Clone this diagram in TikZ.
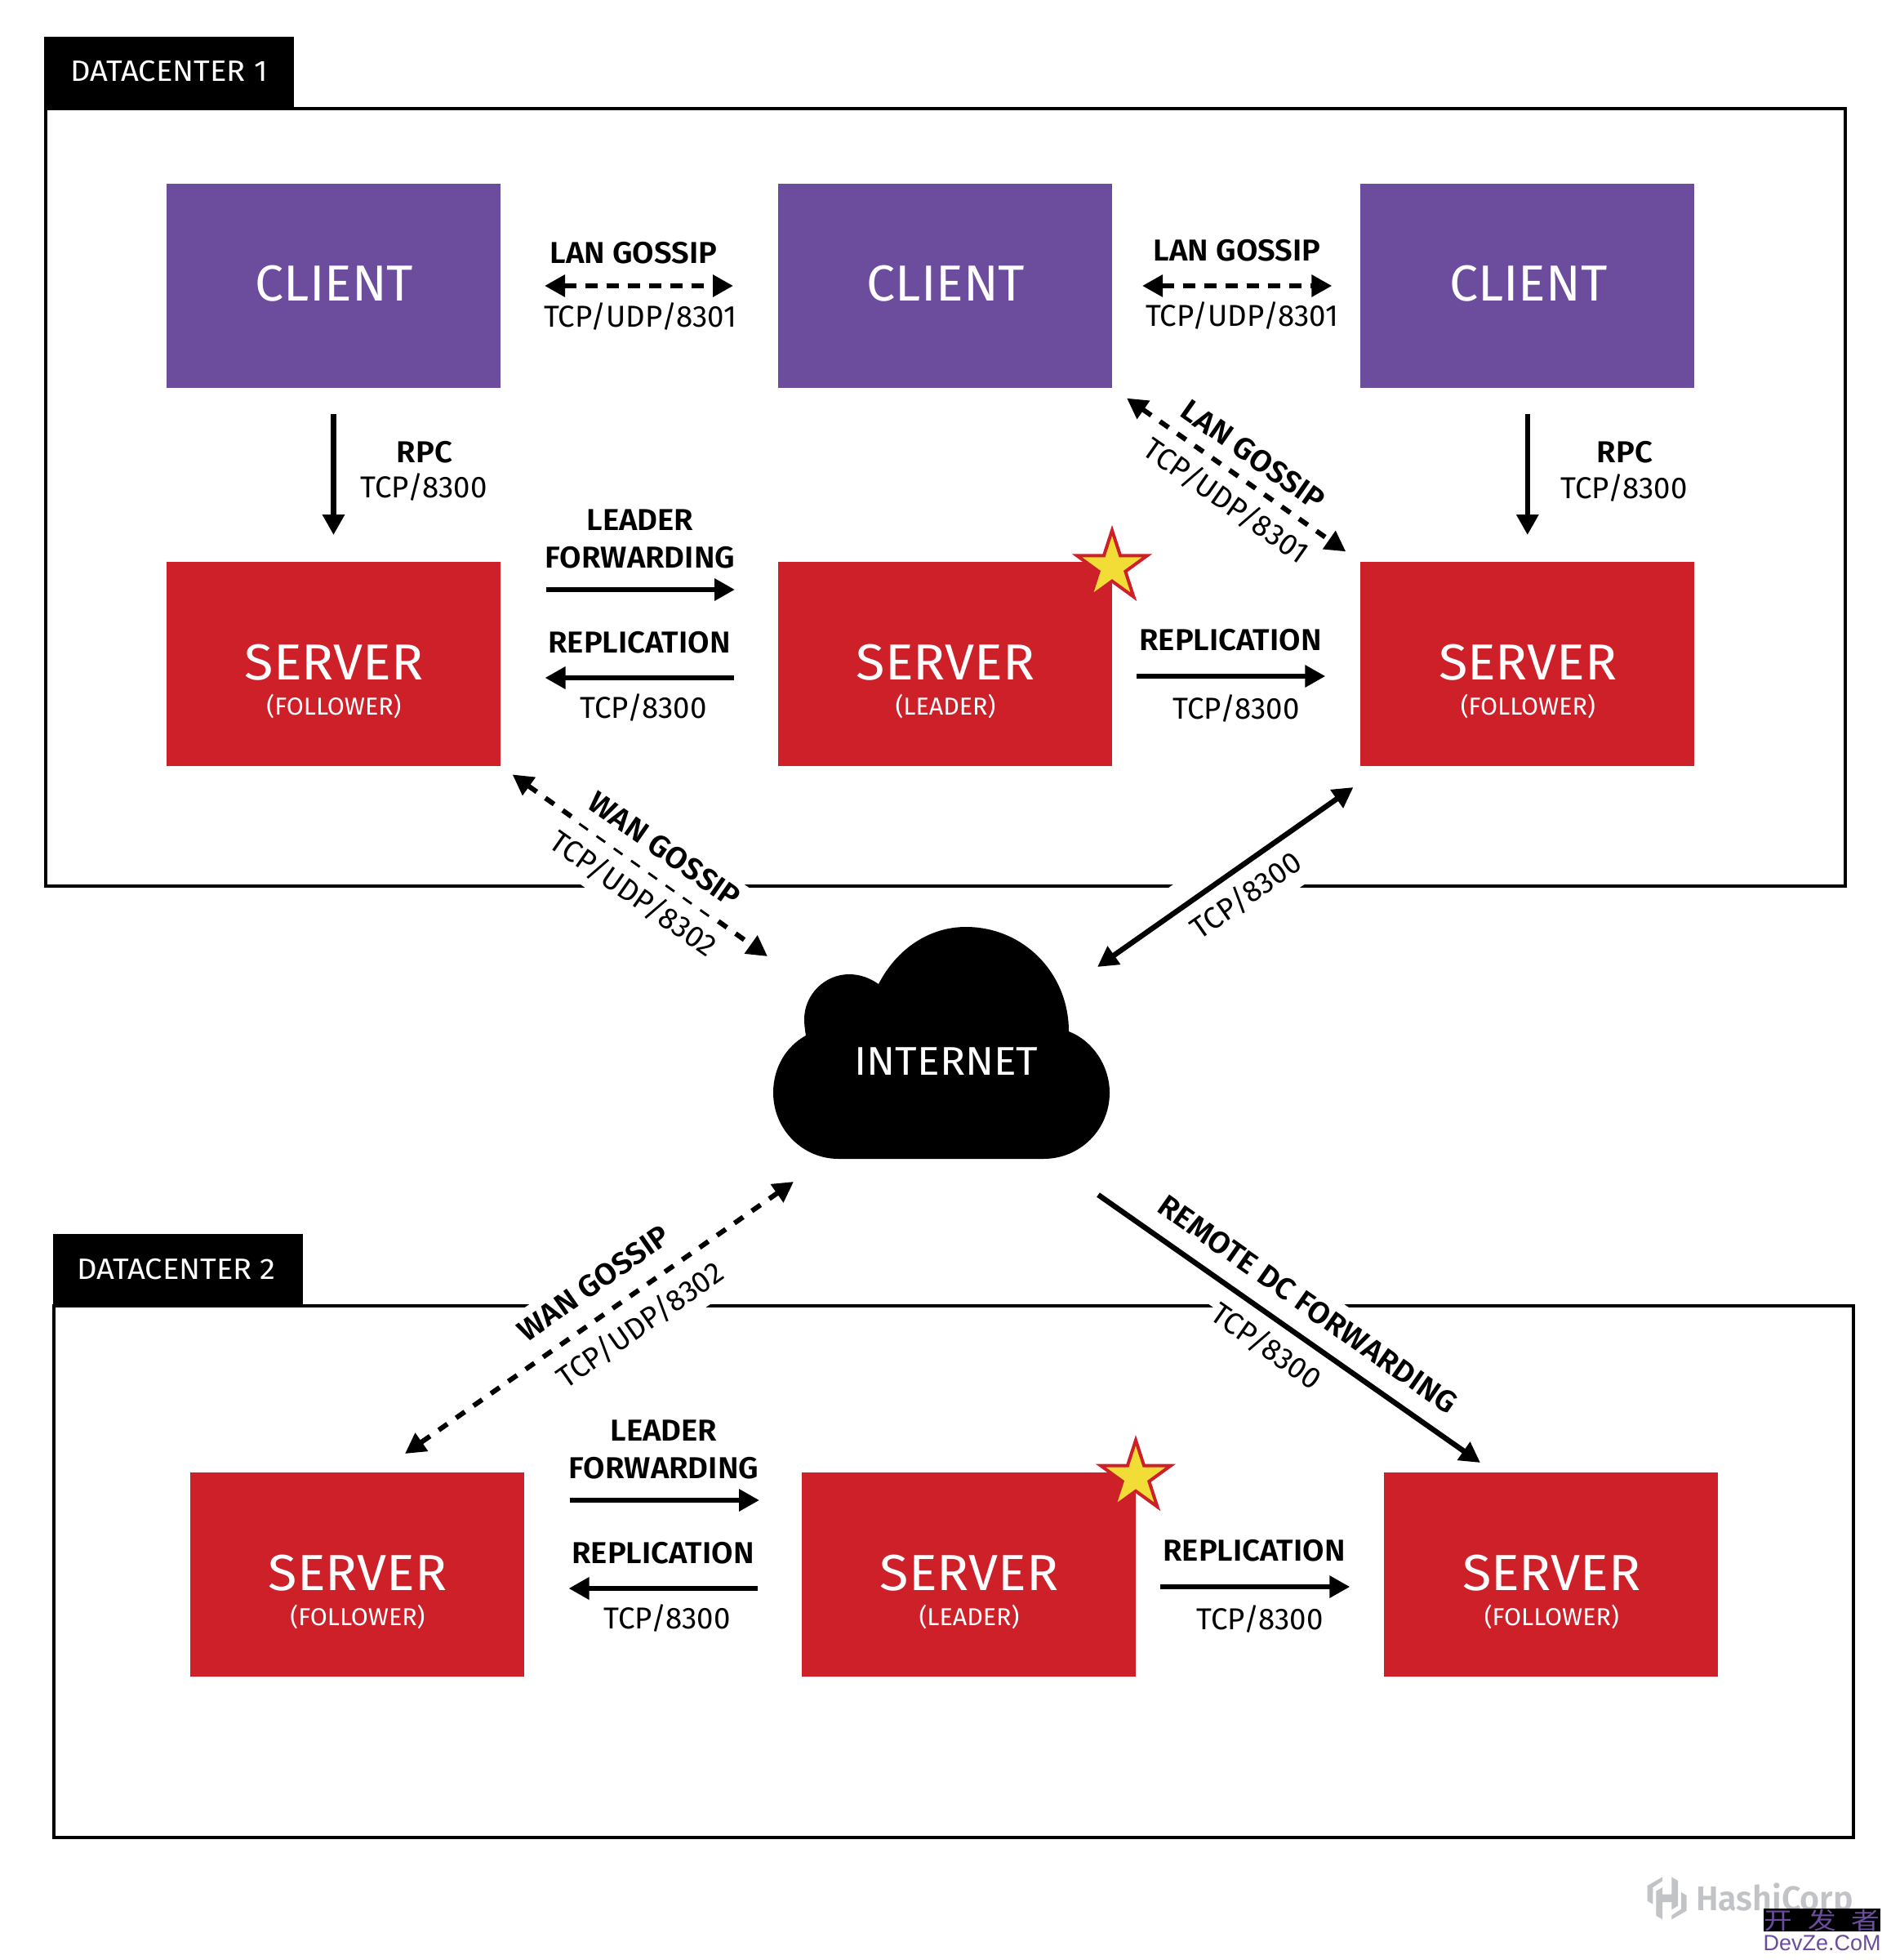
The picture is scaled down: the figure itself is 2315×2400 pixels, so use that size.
\documentclass[tikz,border=0pt]{standalone}
\usepackage{fontspec}
\usetikzlibrary{arrows.meta,shapes.geometric}
\setmainfont{Fira Sans}
\newfontfamily\clientf[FakeStretch=1.01]{Fira Sans}
\newfontfamily\serverf[FakeStretch=1.045]{Fira Sans}
\newfontfamily\netf[FakeStretch=1.05]{Fira Sans}
\newfontfamily\subf[FakeStretch=1.015]{Fira Sans}
\newfontfamily\tabf[FakeStretch=1.06]{Fira Sans}
\newfontfamily\regf[FakeStretch=0.99]{Fira Sans}
\newfontfamily\boldf[FakeStretch=1.035]{Fira Sans SemiBold}
\newfontfamily\hashif[FakeStretch=0.98]{Fira Sans SemiBold}
\newfontfamily\wmcjk[FakeStretch=1.2]{Noto Sans CJK SC}
\newfontfamily\wmlat{Liberation Sans}
\definecolor{clientpurple}{HTML}{6C4C9C}
\definecolor{serverred}{HTML}{CD2029}
\definecolor{staryellow}{HTML}{F2DC36}
\definecolor{hashigrey}{HTML}{C1C3C6}
\tikzset{
  frameb/.style={draw=black,line width=4pt,inner sep=0pt,outer sep=0pt},
  tabb/.style={fill=black,inner sep=0pt,outer sep=0pt,minimum width=306.5pt,minimum height=88pt},
  tabtxt/.style={text=white,inner sep=0pt,font=\tabf\fontsize{36}{36}\selectfont,text height=25pt,text depth=0pt},
  clientb/.style={fill=clientpurple,inner sep=0pt,outer sep=0pt,minimum width=409pt,minimum height=250pt},
  serverb/.style={fill=serverred,inner sep=0pt,outer sep=0pt,minimum width=409pt,minimum height=250pt},
  clienttxt/.style={text=white,inner sep=0pt,font=\clientf\fontsize{62}{62}\selectfont,text height=43pt,text depth=0pt},
  servertxt/.style={text=white,inner sep=0pt,font=\serverf\fontsize{62}{62}\selectfont,text height=43pt,text depth=0pt},
  subtxt/.style={text=white,inner sep=0pt,font=\subf\fontsize{30}{30}\selectfont,text height=21pt,text depth=0pt},
  nettxt/.style={text=white,inner sep=0pt,font=\netf\fontsize{49}{49}\selectfont,text height=34pt,text depth=0pt},
  bl/.style={inner sep=0pt,font=\boldf\fontsize{37}{37}\selectfont,text height=26pt,text depth=0pt},
  rl/.style={inner sep=0pt,font=\regf\fontsize{37}{37}\selectfont,text height=26pt,text depth=0pt},
  knock/.style={fill=white,inner sep=0pt,minimum width=300pt},
  solidarr/.style={draw=black,line width=6.5pt,>={Triangle[length=25pt,width=26pt]}},
  dasharr/.style={draw=black,line width=6pt,dash pattern=on 13pt off 13pt,>={Triangle[length=25pt,width=26pt]}},
  dasharrh/.style={draw=black,line width=6pt,dash pattern=on 15pt off 11pt,>={Triangle[length=25pt,width=26pt]}},
  leaderstar/.style={star,star points=5,star point ratio=2.618,draw=serverred,fill=staryellow,line width=4pt,inner sep=0pt,minimum size=90pt,outer sep=0pt},
}
\begin{document}
\begin{tikzpicture}[x=1pt,y=-1pt]
\path[use as bounding box,fill=white] (0,0) rectangle (2315,2400);

% frames
\node[frameb,minimum width=2204pt,minimum height=951.5pt] (dc1) at (1157.5,608.75) {};
\node[frameb,minimum width=2204pt,minimum height=651.5pt] (dc2) at (1168,1924.25) {};
\node[tabb] (tab1) at (206.75,89) {};
\node[tabtxt] (tab1t) at (207,87) {DATACENTER 1};
\node[tabb] (tab2) at (217.75,1555) {};
\node[tabtxt] (tab2t) at (216,1553.5) {DATACENTER 2};

% frame breaks behind the slanted labels
\node[knock,minimum height=115pt,rotate=-35] (kn1) at (813.5,1084.5) {};
\node[knock,minimum height=92pt,rotate=35] (kn2) at (1515,1084.5) {};
\node[knock,minimum height=127pt,rotate=35] (kn3) at (757,1598.5) {};
\node[knock,minimum height=95pt,rotate=-35] (kn4) at (1565.5,1598.5) {};

% boxes
\node[clientb] (c1) at (408.5,350) {};
\node[clientb] (c2) at (1157.5,350) {};
\node[clientb] (c3) at (1870.8,350) {};
\node[clienttxt] (c1t) at (409.5,347) {CLIENT};
\node[clienttxt] (c2t) at (1158.5,347) {CLIENT};
\node[clienttxt] (c3t) at (1871.8,347) {CLIENT};
\node[serverb] (s1) at (408.5,813) {};
\node[serverb] (s2) at (1157.5,813) {};
\node[serverb] (s3) at (1870.8,813) {};
\node[serverb] (s4) at (437,1928) {};
\node[serverb] (s5) at (1186.5,1928) {};
\node[serverb] (s6) at (1899.8,1928) {};
\node[servertxt] (s1t) at (409,811) {SERVER};
\node[servertxt] (s2t) at (1158,811) {SERVER};
\node[servertxt] (s3t) at (1871.3,811) {SERVER};
\node[servertxt] (s4t) at (438,1926) {SERVER};
\node[servertxt] (s5t) at (1187,1926) {SERVER};
\node[servertxt] (s6t) at (1900.3,1926) {SERVER};
\node[subtxt] (s1r) at (409,865) {(FOLLOWER)};
\node[subtxt] (s2r) at (1158,865) {(LEADER)};
\node[subtxt] (s3r) at (1871.3,865) {(FOLLOWER)};
\node[subtxt] (s4r) at (438,1980) {(FOLLOWER)};
\node[subtxt] (s5r) at (1187,1980) {(LEADER)};
\node[subtxt] (s6r) at (1900.3,1980) {(FOLLOWER)};

% stars
\node[leaderstar] (star1) at (1362,694.4) {};
\node[leaderstar] (star2) at (1391,1808.6) {};

% cloud
\fill[black] (987,1268)
  .. controls (986,1262) and (985,1255) .. (985,1248)
  .. controls (985,1218) and (1010,1193) .. (1040,1193)
  .. controls (1054,1193) and (1066,1198) .. (1076,1205)
  .. controls (1098,1162) and (1138,1135) .. (1183,1135)
  .. controls (1253,1135) and (1309,1191) .. (1309,1263)
  .. controls (1338,1274) and (1359,1305) .. (1359,1338)
  .. controls (1359,1383) and (1323,1419) .. (1278,1419)
  -- (1027,1419)
  .. controls (983,1419) and (947,1383) .. (947,1338)
  .. controls (947,1307) and (963,1281) .. (987,1268) -- cycle;
\node[nettxt] (internet) at (1159,1299) {INTERNET};
\coordinate (cloudNW) at (940,1171);
\coordinate (cloudNE) at (1344,1184);
\coordinate (cloudSW) at (972,1447);
\coordinate (cloudSE) at (1345,1463);
\coordinate (s3sw) at (1657.5,964);
\coordinate (s4nw) at (496,1780);
\coordinate (s6nw) at (1813,1791);

% connectors: datacenter 1
\draw[dasharrh,<->,shorten <=54pt,shorten >=55pt] (c1.east) -- (c2.west);
\draw[dasharrh,<->,shorten <=37pt,shorten >=35pt] (c2.east) -- (c3.west);
\draw[solidarr,->,shorten <=32pt,shorten >=33pt] (c1.south) -- (s1.north);
\draw[solidarr,->,shorten <=32pt,shorten >=33pt] (c3.south) -- (s3.north);
\draw[solidarr,->,shorten <=55.5pt,shorten >=53pt] ([yshift=91pt]s1.east) -- ([yshift=91pt]s2.west);
\draw[solidarr,->,shorten <=54pt,shorten >=54.5pt] ([yshift=-17pt]s2.west) -- ([yshift=-17pt]s1.east);
\draw[solidarr,->,shorten <=30pt,shorten >=43pt] ([yshift=-15pt]s2.east) -- ([yshift=-15pt]s3.west);
\draw[dasharr,<->,shorten <=22pt,shorten >=22pt] (c2.south east) -- (s3.north west);
\draw[dasharr,<->,shorten <=18pt] (s1.south east) -- (cloudNW);
\node[fill=white,inner sep=0pt,minimum width=218pt,minimum height=7pt,rotate=-35.5] (thin) at (791,1060.5) {};
\draw[solidarr,<->] (cloudNE) -- (s3sw);

% connectors: datacenter 2
\draw[dasharr,<->] (cloudSW) -- (s4nw);
\draw[solidarr,->] (cloudSE) -- (s6nw);
\draw[solidarr,->,shorten <=56pt,shorten >=52pt] ([yshift=91pt]s4.east) -- ([yshift=91pt]s5.west);
\draw[solidarr,->,shorten <=54pt,shorten >=55pt] ([yshift=-17pt]s5.west) -- ([yshift=-17pt]s4.east);
\draw[solidarr,->,shorten <=30pt,shorten >=42pt] ([yshift=-15pt]s5.east) -- ([yshift=-15pt]s6.west);

% labels: datacenter 1
\node[bl] (l1) at (776,309) {LAN GOSSIP};
\node[rl] (l2) at (784,387) {TCP/UDP/8301};
\node[bl] (l3) at (1515,306) {LAN GOSSIP};
\node[rl] (l4) at (1521,386) {TCP/UDP/8301};
\node[bl] (l5) at (520,553) {RPC};
\node[rl] (l6) at (519,596) {TCP/8300};
\node[bl] (l7) at (1990,553) {RPC};
\node[rl] (l8) at (1989,597) {TCP/8300};
\node[bl] (l9) at (784,636) {LEADER};
\node[bl] (l10) at (784,682) {FORWARDING};
\node[bl] (l11) at (783,786) {REPLICATION};
\node[rl] (l12) at (788,866) {TCP/8300};
\node[bl] (l13) at (1507,783) {REPLICATION};
\node[rl] (l14) at (1514,867) {TCP/8300};
\node[bl,rotate=-35] (l15) at (1535,557) {LAN GOSSIP};
\node[rl,rotate=-35] (l16) at (1502,613) {TCP/UDP/8301};
\node[bl,rotate=-35] (l17) at (814,1040) {WAN GOSSIP};
\node[rl,rotate=-35] (l18) at (776,1094) {TCP/UDP/8302};
\node[rl,rotate=35] (l19) at (1526,1096) {TCP/8300};

% labels: between and datacenter 2
\node[bl,rotate=35] (l20) at (727,1571) {WAN GOSSIP};
\node[rl,rotate=35] (l21) at (784,1622) {TCP/UDP/8302};
\node[bl,rotate=-35] (l22) at (1602,1597) {REMOTE DC FORWARDING};
\node[rl,rotate=-35] (l23) at (1551,1648) {TCP/8300};
\node[bl] (l24) at (813,1751) {LEADER};
\node[bl] (l25) at (813,1797) {FORWARDING};
\node[bl] (l26) at (812,1901) {REPLICATION};
\node[rl] (l27) at (817,1981) {TCP/8300};
\node[bl] (l28) at (1536,1898) {REPLICATION};
\node[rl] (l29) at (1543,1982) {TCP/8300};

% logo
\begin{scope}[shift={(2005,2285)},x=0.3333pt,y=-0.3333pt]
\fill[hashigrey] (38,72) -- (93,40) -- (93,55) -- (58,78) -- (58,140) -- (38,128) -- cycle;
\fill[hashigrey] (182,164) -- (127,196) -- (127,181) -- (162,158) -- (162,96) -- (182,108) -- cycle;
\fill[hashigrey] (70,92) -- (93,78) -- (93,104) -- (127,104) -- (127,40) -- (150,54) -- (150,146) -- (127,160) -- (127,132) -- (93,132) -- (93,196) -- (70,182) -- cycle;
\end{scope}
\node[anchor=west,inner sep=0pt,text=hashigrey,font=\hashif\fontsize{42}{42}\selectfont,text height=29pt,text depth=0pt] (hashi) at (2077,2324.5) {HashiCorp};

% watermark
\node[fill=black,inner sep=0pt,minimum width=143pt,minimum height=28pt] (wmbox) at (2231.5,2351) {};
\node[inner sep=0pt,text=clientpurple,font=\wmcjk\fontsize{29}{29}\selectfont] (wmcn) at (2231.5,2351) {开\hspace{19pt}发\hspace{19pt}者};
\node[inner sep=0pt,text=clientpurple,font=\wmlat\fontsize{27}{27}\selectfont,text height=20pt,text depth=0pt] (wmen) at (2231.5,2378) {DevZe.CoM};
\end{tikzpicture}
\end{document}
